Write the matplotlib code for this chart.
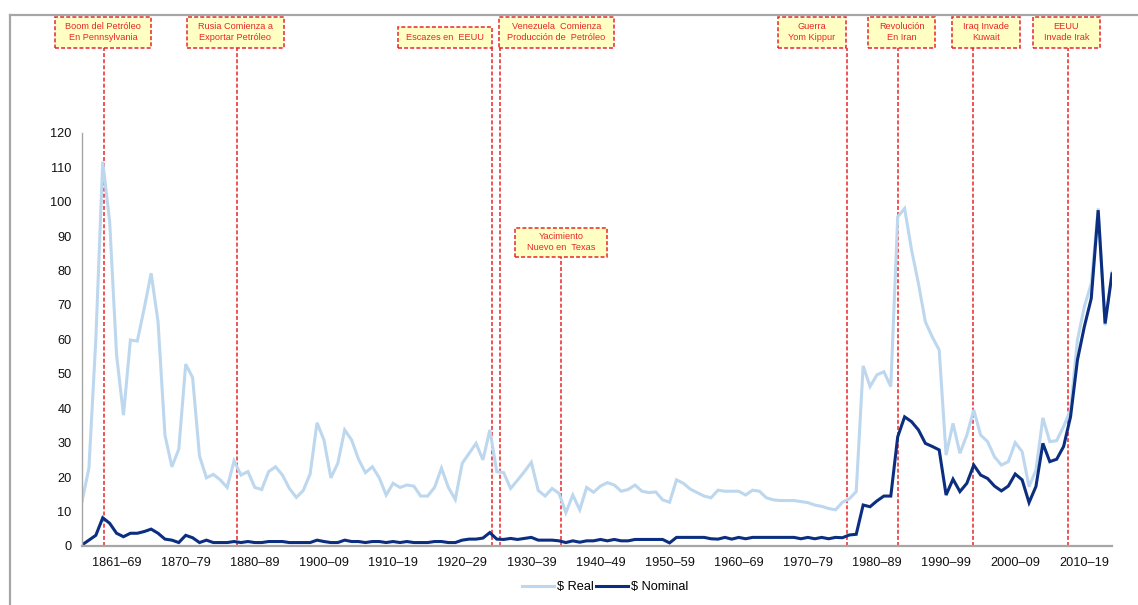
import numpy as np
import matplotlib
matplotlib.use("Agg")
import matplotlib.pyplot as plt
from matplotlib.patches import Rectangle
from matplotlib.lines import Line2D
from matplotlib.transforms import blended_transform_factory

plt.rcParams['font.family'] = ['Liberation Sans', 'DejaVu Sans']

# ---------------- data ----------------
years = list(range(1861, 2011))

real = [
    12.9, 22.6, 60.0, 111.6, 94.2, 55.5, 38.0, 59.8, 59.5, 69.0,
    79.2, 65.1, 32.2, 23.0, 28.1, 52.8, 48.9, 26.1, 19.8, 20.8,
    19.2, 17.0, 24.7, 20.6, 21.6, 17.0, 16.4, 21.6, 23.0, 20.6,
    16.7, 14.1, 16.1, 20.9, 35.8, 30.8, 19.8, 24.0, 33.7, 30.8,
    25.2, 21.3, 23.0, 19.8, 14.8, 18.2, 17.0, 17.7, 17.4, 14.5,
    14.5, 17.0, 22.6, 17.0, 13.5, 24.0, 26.9, 29.8, 25.0, 33.7,
    21.6, 21.3, 16.7, 19.1, 21.6, 24.3, 16.1, 14.5, 16.7, 15.3,
    9.7, 14.8, 10.5, 17.0, 15.6, 17.4, 18.4, 17.7, 15.9, 16.4,
    17.7, 15.9, 15.5, 15.7, 13.4, 12.7, 19.2, 18.2, 16.5, 15.5,
    14.5, 14.0, 16.2, 15.9, 15.9, 15.9, 14.8, 16.2, 15.9, 14.0,
    13.4, 13.2, 13.2, 13.2, 12.9, 12.6, 11.9, 11.5, 10.9, 10.5,
    12.7, 13.7, 15.8, 52.3, 46.3, 49.7, 50.6, 46.3, 95.6, 98.0,
    86.0, 76.2, 65.1, 60.7, 56.9, 26.4, 35.6, 26.9, 32.2, 39.5,
    32.2, 30.3, 25.9, 23.5, 24.5, 30.0, 27.4, 17.2, 22.1, 37.2,
    30.3, 30.6, 34.7, 39.5, 59.8, 69.5, 76.2, 98.0, 64.1, 79.5,
]

nominal = [
    0.3, 1.7, 3.1, 8.2, 6.6, 3.7, 2.7, 3.7, 3.7, 4.2,
    4.9, 3.7, 2.0, 1.7, 1.0, 3.1, 2.4, 1.0, 1.7, 1.0,
    1.0, 1.0, 1.3, 1.0, 1.3, 1.0, 1.0, 1.3, 1.3, 1.3,
    1.0, 1.0, 1.0, 1.0, 1.7, 1.3, 1.0, 1.0, 1.7, 1.3,
    1.3, 1.0, 1.3, 1.3, 1.0, 1.3, 1.0, 1.3, 1.0, 1.0,
    1.0, 1.3, 1.3, 1.0, 1.0, 1.7, 2.0, 2.0, 2.3, 3.9,
    2.0, 1.9, 2.2, 1.9, 2.2, 2.5, 1.7, 1.7, 1.7, 1.5,
    1.0, 1.5, 1.1, 1.5, 1.5, 1.9, 1.5, 1.9, 1.5, 1.5,
    1.9, 1.9, 1.9, 1.9, 1.9, 0.9, 2.5, 2.5, 2.5, 2.5,
    2.5, 2.1, 2.0, 2.5, 2.0, 2.5, 2.1, 2.5, 2.5, 2.5,
    2.5, 2.5, 2.5, 2.5, 2.1, 2.5, 2.1, 2.5, 2.1, 2.5,
    2.4, 3.2, 3.4, 11.9, 11.4, 13.1, 14.5, 14.5, 31.7, 37.5,
    36.1, 33.7, 29.8, 28.9, 27.9, 14.8, 19.4, 15.8, 18.2, 23.5,
    20.6, 19.6, 17.4, 16.0, 17.4, 20.9, 19.2, 12.6, 17.3, 29.8,
    24.5, 25.2, 28.9, 37.5, 54.0, 63.7, 71.9, 97.5, 64.6, 79.0,
]

decade_labels = ["1861–69", "1870–79", "1880–89", "1900–09", "1910–19",
                 "1920–29", "1930–39", "1940–49", "1950–59", "1960–69",
                 "1970–79", "1980–89", "1990–99", "2000–09", "2010–19"]

# event text, line position (year), box centre (year), box width (years), box top / bottom (figure fraction)
event_labels = ["Boom del Petróleo\nEn Pennsylvania", "Rusia Comienza a\nExportar Petróleo",
                "Escazes en  EEUU", "Venezuela  Comienza\nProducción de  Petróleo",
                "Yacimiento\nNuevo en  Texas", "Guerra\nYom Kippur",
                "Revolución\nEn Iran", "Iraq Invade\nKuwait", "EEUU\nInvade Irak"]
event_line_x = [1864.2, 1883.4, 1920.3, 1921.5, 1930.3, 1971.7, 1979.1, 1989.9, 2003.6]
event_box_x = [1864.1, 1883.2, 1913.5, 1929.6, 1930.3, 1966.6, 1979.6, 1991.8, 2003.4]
event_box_w = [13.9, 13.9, 13.6, 16.6, 13.3, 9.8, 9.7, 9.8, 9.75]
event_box_top = [0.9727, 0.9727, 0.9554, 0.9727, 0.6236, 0.9727, 0.9727, 0.9727, 0.9727]
event_box_bot = [0.9207, 0.9207, 0.9207, 0.9207, 0.5757, 0.9207, 0.9207, 0.9207, 0.9207]

# ---------------- figure ----------------
W, H = 1138, 605
fig = plt.figure(figsize=(W / 100, H / 100), dpi=100)
ax = fig.add_axes([82 / W, 59 / H, 1030 / W, 413.3 / H])

c_real = '#BDD7EE'
c_nom = '#0B2E80'
c_red = '#E8262A'
c_grey = '#A6A6A6'

ax.plot(years, real, color=c_real, lw=2.2, label='$ Real', solid_joinstyle='miter')
ax.plot(years, nominal, color=c_nom, lw=2.2, label='$ Nominal', solid_joinstyle='miter')

ax.set_xlim(years[0], years[-1])
ax.set_ylim(0, 120)
ax.set_yticks(np.arange(0, 121, 10))
ax.set_xticks(years[5::10])
ax.set_xticklabels(decade_labels)
ax.tick_params(axis='both', length=0, labelsize=9.2, colors='#111111')
ax.tick_params(axis='y', pad=7.5)
ax.tick_params(axis='x', pad=8)
for s in ['top', 'right']:
    ax.spines[s].set_visible(False)
ax.spines['left'].set_color(c_grey)
ax.spines['left'].set_linewidth(1.0)
ax.spines['bottom'].set_color(c_grey)
ax.spines['bottom'].set_linewidth(1.6)

# events
trans = blended_transform_factory(ax.transData, fig.transFigure)
axis_bottom_fig = 59 / H
for lab, lx, bx, bw, bt, bb in zip(event_labels, event_line_x, event_box_x,
                                   event_box_w, event_box_top, event_box_bot):
    ax.plot([lx, lx], [axis_bottom_fig, bb], transform=trans, clip_on=False,
            color=c_red, lw=1.1, linestyle=(0, (2.6, 1.4)), zorder=1)
    rect = Rectangle((bx - bw / 2, bb), bw, bt - bb, transform=trans, clip_on=False,
                     facecolor='#FFFFC4', edgecolor=c_red, lw=1.1,
                     linestyle=(0, (2.6, 1.4)), zorder=5)
    ax.add_patch(rect)
    ax.text(bx, (bt + bb) / 2, lab, transform=trans, ha='center', va='center',
            fontsize=6.6, color=c_red, linespacing=1.25, zorder=6, clip_on=False)

# outer frame
fig.add_artist(Line2D([9.8 / W, 9.8 / W], [0, 1 - 15.3 / H], transform=fig.transFigure,
                      color=c_grey, lw=1.6))
fig.add_artist(Line2D([9.8 / W, 1], [1 - 15.3 / H, 1 - 15.3 / H], transform=fig.transFigure,
                      color=c_grey, lw=1.6))

fig.legend(loc='center', bbox_to_anchor=(605 / W, 1 - 587 / H), ncol=2, frameon=False,
           fontsize=9.2, handlelength=2.5, handletextpad=0.2, columnspacing=0.2)

fig.savefig('out.png', dpi=100)
